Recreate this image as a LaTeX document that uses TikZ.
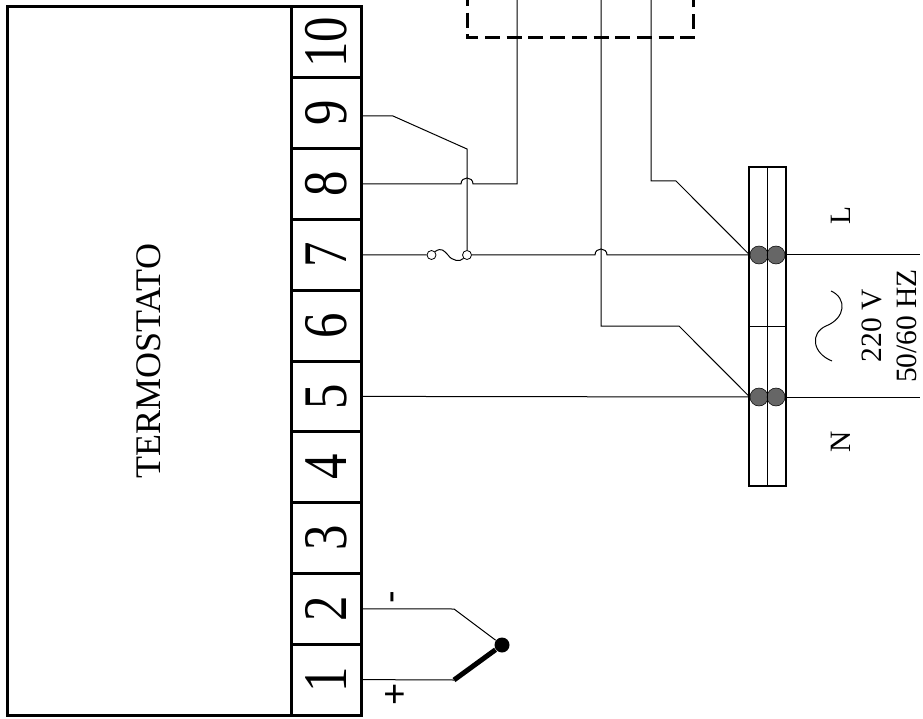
\documentclass[tikz,border=0pt]{standalone}
\usepackage{fontspec}
\setmainfont{Liberation Serif}
\newfontfamily\signfont{Liberation Sans}
\newcommand{\digit}[1]{\scalebox{0.82}[1]{#1}}

\begin{document}
\begin{tikzpicture}[x=1pt, y=-1pt, line width=1pt]
	
	% Styles
	\tikzset{
		cell/.style = {draw, line width=3pt, rotate=90, minimum width=70.8pt, minimum height=70pt, inner sep=0pt, font=\fontsize{62}{62}\selectfont},
		mainbox/.style = {draw, line width=3pt, rotate=90, minimum width=708pt, minimum height=284pt, font=\fontsize{36}{36}\selectfont},
		strip/.style = {draw, line width=2pt, minimum width=37pt, minimum height=319pt, inner sep=0pt},
		clamp/.style = {circle, draw, line width=0.5pt, fill=black!60, minimum size=18pt, inner sep=0pt},
		fusepin/.style = {circle, draw, line width=0.8pt, minimum size=9pt, inner sep=0pt},
		mains/.style = {rotate=90, font=\fontsize{29.5}{29.5}\selectfont},
		polarity/.style = {rotate=90, font=\signfont\fontsize{38}{38}\selectfont},
		wire/.style = {line width=1pt}
	}
	\useasboundingbox (0,0) rectangle (923,719);
	
	% Nodes
	\node[mainbox] (thermostat) at (149,361) {TERMOSTATO};
	
	\node[cell] (t1) at (326,679.6) {\digit{1}};
	\node[cell] (t2) at (326,608.8) {\digit{2}};
	\node[cell] (t3) at (326,538) {\digit{3}};
	\node[cell] (t4) at (326,467.2) {\digit{4}};
	\node[cell] (t5) at (326,396.4) {\digit{5}};
	\node[cell] (t6) at (326,325.6) {\digit{6}};
	\node[cell] (t7) at (326,254.8) {\digit{7}};
	\node[cell] (t8) at (326,184) {\digit{8}};
	\node[cell] (t9) at (326,113.2) {\digit{9}};
	\node[cell] (t10) at (326,42.4) {\digit{10}};
	
	\node[strip] (bar) at (767.5,326.5) {};
	\node[clamp] (l1) at (759,255) {};
	\node[clamp] (l2) at (776,255) {};
	\node[clamp] (n1) at (759,397) {};
	\node[clamp] (n2) at (776,397) {};
	
	\node[fusepin] (f1) at (431.5,255) {};
	\node[fusepin] (f2) at (467,255) {};
	
	\node[circle, fill=black, minimum size=15pt, inner sep=0pt] (tc) at (502,645) {};
	
	\node[mains] (lineL) at (841,215) {L};
	\node[mains] (lineN) at (841,442) {N};
	\node[mains] (volt) at (872,326) {220 V};
	\node[mains] (freq) at (907,326) {50/60 HZ};
	\node[polarity] (minus) at (397,597) {-};
	\node[polarity] (plus) at (397,694) {+};
	
	% Coordinates
	\coordinate (d1) at (467,0);
	\coordinate (d2) at (467,38);
	\coordinate (d3) at (693,38);
	\coordinate (d4) at (693,0);
	
	\coordinate (top8) at (517,0);
	\coordinate (topN) at (601,0);
	\coordinate (topL) at (651,0);
	\coordinate (endL) at (920,255);
	\coordinate (endN) at (920,397);
	
	\coordinate (a8) at (461,184);
	\coordinate (b8) at (473,184);
	\coordinate (c8) at (517,184);
	\coordinate (a9) at (393,116);
	\coordinate (b9) at (467,149);
	\coordinate (a7) at (595,255);
	\coordinate (b7) at (607,255);
	\coordinate (aL) at (651,181);
	\coordinate (bL) at (676,181);
	\coordinate (aN) at (601,326);
	\coordinate (bN) at (679,326);
	\coordinate (a1) at (454,680);
	\coordinate (a2) at (454,609);
	
	% Dashed box
	\draw[line width=3pt, dash pattern=on 15pt off 6.7pt, dash phase=9.1pt] (d1) -- (d2) -- (d3) -- (d4);
	
	% Strip lines
	\draw (bar.north) -- (bar.south);
	\draw (bar.west) -- (bar.east);
	
	% Wires
	\draw[wire] (t8.south) -- (a8) .. controls +(0,-8) and +(0,-8) .. (b8) -- (c8) -- (top8);
	\draw[wire] (t9.south |- a9) -- (a9) -- (b9) -- (f2.north);
	\draw[wire] (t7.south) -- (f1.west);
	\draw[wire] (f1.north east) .. controls (442,247) and (444,251) .. (448,255) .. controls (452,261) and (460,262) .. (f2.south west);
	\draw[wire] (f2.east) -- (a7) .. controls +(0,-8) and +(0,-8) .. (b7) -- (l1.west);
	\draw[wire] (l2.east) -- (endL);
	\draw[wire] (t5.south) -- (n1.west);
	\draw[wire] (n2.east) -- (endN);
	\draw[wire] (topL) -- (aL) -- (bL) -- (l1.west);
	\draw[wire] (topN) -- (aN) -- (bN) -- (n1.west);
	\draw[wire] (t2.south) -- (a2) -- (tc);
	\draw[wire] (t1.south) -- (a1);
	\draw[line width=5pt] (a1) -- (tc);
	
	% Sine
	\draw[wire] (831,291) .. controls (847,298) and (846,318) .. (826,326) .. controls (810,333) and (812,353) .. (832,361);
	
\end{tikzpicture}
\end{document}
